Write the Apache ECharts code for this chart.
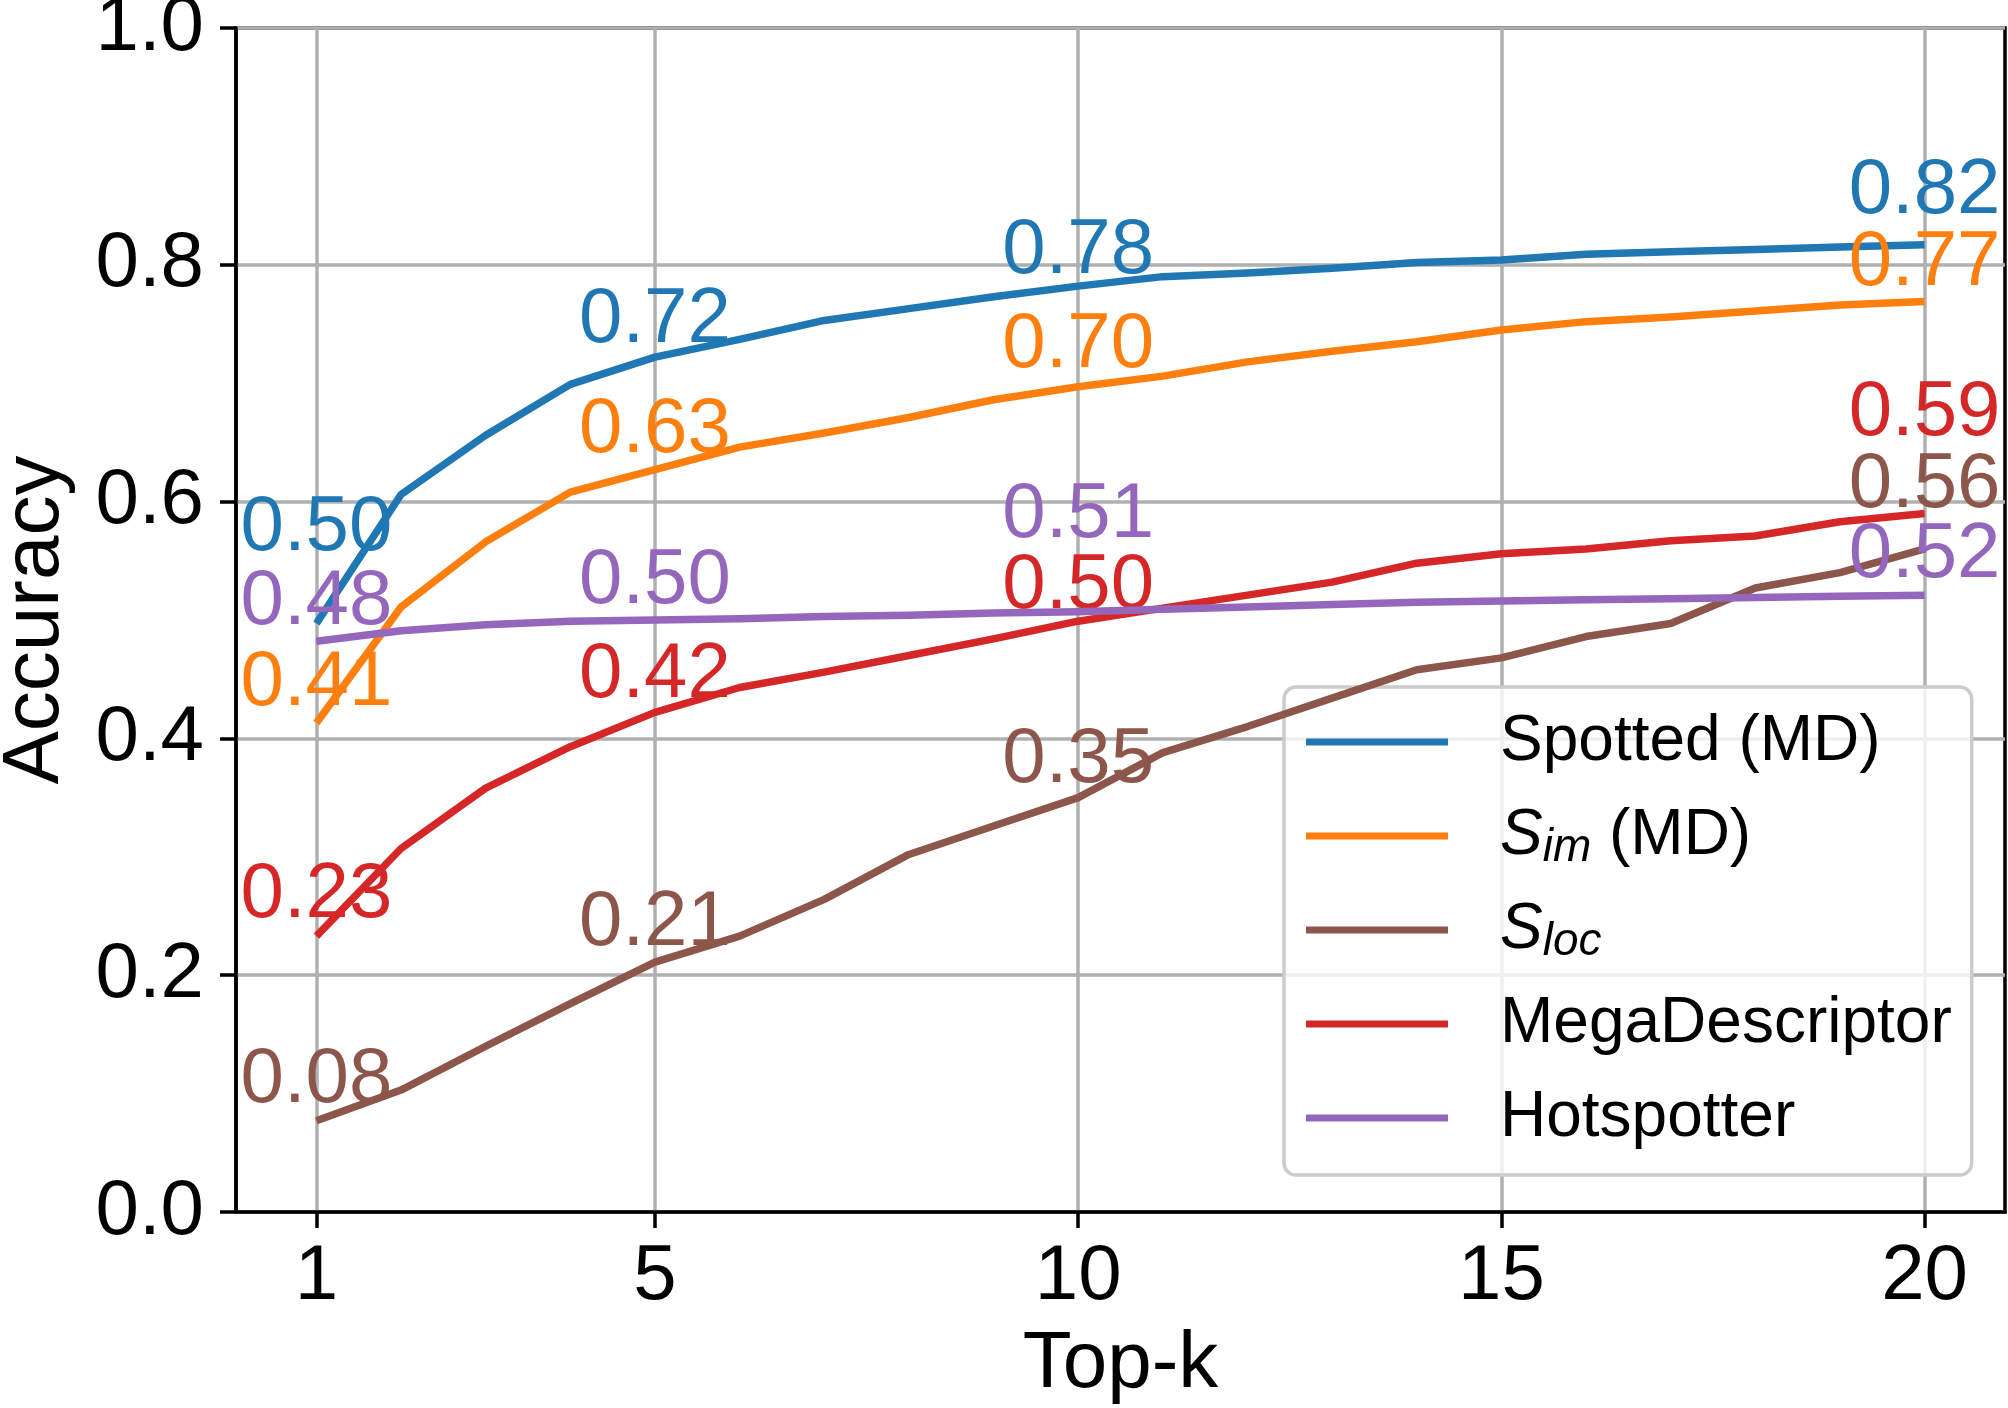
<!DOCTYPE html>
<html><head><meta charset="utf-8">
<script src="https://cdn.jsdelivr.net/npm/echarts@6/dist/echarts.min.js"></script>
<style>html,body{margin:0;padding:0;background:#fff}#c{width:2008px;height:1408px}</style>
</head><body><div id="c"></div>
<script>
// ---- data ----
const topK = [1,2,3,4,5,6,7,8,9,10,11,12,13,14,15,16,17,18,19,20];
const spotted    = [0.497,0.606,0.656,0.699,0.722,0.737,0.753,0.763,0.773,0.782,0.790,0.793,0.797,0.802,0.804,0.809,0.811,0.813,0.815,0.817];
const simMD      = [0.413,0.511,0.566,0.608,0.627,0.646,0.658,0.671,0.686,0.697,0.706,0.718,0.727,0.735,0.745,0.752,0.756,0.761,0.766,0.769];
const sLoc       = [0.077,0.103,0.140,0.176,0.211,0.233,0.264,0.302,0.326,0.350,0.388,0.410,0.434,0.458,0.468,0.486,0.497,0.527,0.540,0.560];
const megaDesc   = [0.233,0.307,0.358,0.393,0.422,0.443,0.456,0.470,0.484,0.499,0.510,0.521,0.532,0.548,0.556,0.560,0.567,0.571,0.583,0.590];
const hotspotter = [0.482,0.491,0.496,0.499,0.500,0.501,0.503,0.504,0.506,0.507,0.509,0.511,0.513,0.515,0.516,0.517,0.518,0.519,0.520,0.521];
const labelledK  = [1,5,10,20];
const xTicks     = [1,5,10,15,20];
const seriesNames = ['Spotted (MD)','Sim (MD)','Sloc','MegaDescriptor','Hotspotter'];

// ---- styling ----
const FONT = 'Liberation Sans';
const colors = ['#1f77b4','#ff7f0e','#8c564b','#d62728','#9467bd'];
// extra upward shift (px) of individual value labels, to mimic the reference placement
const labelLift = [
  {1:56, 5:-2, 10:-4, 20:14},
  {1:0, 5:0, 10:2, 20:-1},
  {1:1, 5:0, 10:-2, 20:24},
  {1:2, 5:-2, 10:-4, 20:61},
  {1:0, 5:-1, 10:57, 20:1}
];
const allValues = [spotted, simMD, sLoc, megaDesc, hotspotter];

const series = allValues.map((vals, si) => ({
  name: seriesNames[si],
  type: 'line',
  color: colors[si],
  showSymbol: true,
  showAllSymbol: true,
  symbol: 'circle',
  symbolSize: 0.1,
  lineStyle: {width: 7.5, color: colors[si], join: 'round'},
  itemStyle: {color: colors[si]},
  emphasis: {disabled: true},
  z: 2 + si,
  label: {show: false},
  data: topK.map((k, i) => {
    if (labelledK.includes(k)) {
      return {
        value: [k, vals[i]],
        label: {
          show: true, position: 'top', distance: 0,
          offset: [0, -(labelLift[si][k] || 0)],
          fontFamily: FONT, fontSize: 78, lineHeight: 78,
          color: colors[si],
          formatter: p => p.value[1].toFixed(2)
        }
      };
    }
    return [k, vals[i]];
  })
}));

const chart = echarts.init(document.getElementById('c'), null, {renderer: 'canvas'});
chart.setOption({
  animation: false,
  backgroundColor: '#fff',
  grid: {left: 236, right: 3, top: 28, bottom: 196, containLabel: false, outerBoundsMode: 'none',
    show: true, borderColor: '#000', borderWidth: 3.5, backgroundColor: '#fff'},
  xAxis: {
    type: 'value', min: 0.05, max: 20.95,
    name: 'Top-k', nameLocation: 'middle', nameGap: 113,
    nameTextStyle: {fontFamily: FONT, fontSize: 80, lineHeight: 80, color: '#000'},
    axisLine: {show: true, onZero: false, lineStyle: {color: '#000', width: 3.5}},
    axisTick: {show: true, length: 16, lineStyle: {color: '#000', width: 3.5}, customValues: xTicks},
    axisLabel: {fontFamily: FONT, fontSize: 78, lineHeight: 78, color: '#000', margin: 26, customValues: xTicks,
      formatter: v => String(v)},
    splitLine: {show: true, lineStyle: {color: '#b0b0b0', width: 3.5}}
  },
  yAxis: {
    type: 'value', min: 0, max: 1, interval: 0.2,
    name: 'Accuracy', nameLocation: 'middle', nameGap: 160,
    nameTextStyle: {fontFamily: FONT, fontSize: 80, lineHeight: 80, color: '#000'},
    axisLine: {show: true, onZero: false, lineStyle: {color: '#000', width: 3.5}},
    axisTick: {show: true, length: 16, lineStyle: {color: '#000', width: 3.5}},
    axisLabel: {fontFamily: FONT, fontSize: 78, lineHeight: 78, color: '#000', margin: 32,
      formatter: v => v.toFixed(1)},
    splitLine: {show: true, lineStyle: {color: '#b0b0b0', width: 3.5}}
  },
  legend: {
    orient: 'vertical',
    left: 1284, top: 687,
    padding: [20, 20, 22, 22],
    itemGap: 24,
    itemWidth: 142, itemHeight: 7,
    icon: 'rect',
    backgroundColor: 'rgba(255,255,255,0.8)',
    borderColor: '#cccccc', borderWidth: 3.5, borderRadius: 12,
    data: seriesNames,
    textStyle: {
      fontFamily: FONT, fontSize: 64, lineHeight: 70, color: '#000', padding: [0, 0, 0, 47],
      rich: {
        it:  {fontFamily: FONT, fontSize: 64, lineHeight: 70, fontStyle: 'italic', color: '#000'},
        sub: {fontFamily: FONT, fontSize: 46, lineHeight: 40, fontStyle: 'italic', color: '#000', verticalAlign: 'bottom'},
        n:   {fontFamily: FONT, fontSize: 64, lineHeight: 70, color: '#000'}
      }
    },
    formatter: name => {
      if (name === 'Sim (MD)') return '{it|S}{sub|im}{n| (MD)}';
      if (name === 'Sloc') return '{it|S}{sub|loc}';
      return name;
    }
  },
  series: series
});
</script>
</body></html>
